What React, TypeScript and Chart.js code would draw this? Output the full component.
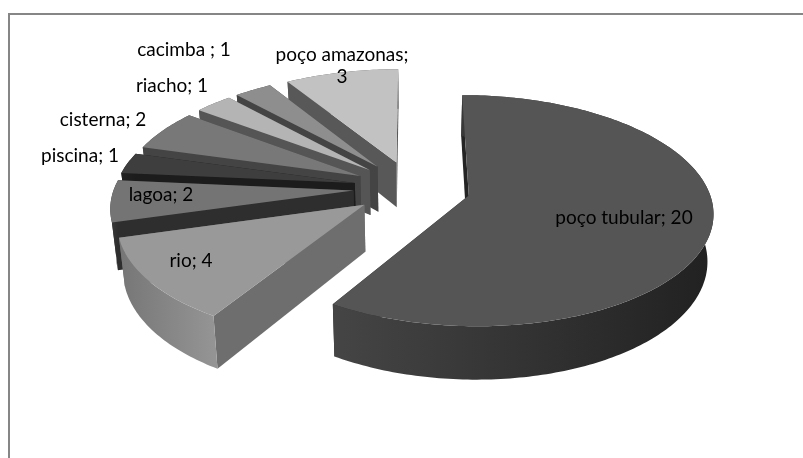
import React, { useEffect, useRef } from "react";
import { Chart, registerables } from "chart.js";

Chart.register(...registerables);

const categories = ["poço tubular", "rio", "lagoa", "piscina", "cisterna", "riacho", "cacimba ", "poço amazonas"];
const values = [20, 4, 2, 1, 2, 1, 1, 3];

const topColors = ["#555555", "#999999", "#747474", "#3e3e3e", "#787878", "#b4b4b4", "#8e8e8e", "#c2c2c2"];
const cutColors = ["#242424", "#6e6e6e", "#2e2e2e", "#1c1c1c", "#444444", "#555555", "#444444", "#585858"];
const wallLeftColors = ["#454545", "#767676", "#3a3a3a", "#222222", "#444444", "#555555", "#444444", "#585858"];
const wallRightColors = ["#212121", "#949494", "#2e2e2e", "#1c1c1c", "#444444", "#555555", "#444444", "#585858"];

const labelLines = [["poço tubular; 20"], ["rio; 4"], ["lagoa; 2"], ["piscina; 1"], ["cisterna; 2"], ["riacho; 1"], ["cacimba ; 1"], ["poço amazonas;", "3"]];
const labelCenterX = [624, 191, 161, 80, 103, 172, 184, 342];
const labelCenterY = [218, 261, 195, 156, 120, 86, 50, 55];

const SLICE_OFFSET = 176;
const RADIUS = 180;
const SCALE_X = 1.33;
const SCALE_Y = 0.62;
const PERSPECTIVE = 0.13 / 180;
const DEPTH = 46;
const BASE_LEAN = 0.98;

const pie3d = {
  id: "pie3d",
  beforeDraw(chart: any) {
    const { ctx } = chart;
    ctx.save();
    ctx.fillStyle = "#ffffff";
    ctx.fillRect(0, 0, chart.width, chart.height);
    ctx.strokeStyle = "#868686";
    ctx.lineWidth = 2;
    ctx.beginPath();
    ctx.moveTo(9, chart.height);
    ctx.lineTo(9, 14);
    ctx.lineTo(chart.width, 14);
    ctx.stroke();
    ctx.restore();
  },
  beforeDatasetDraw(chart: any, args: any) {
    const { ctx } = chart;
    const arcs = chart.getDatasetMeta(args.index).data;
    const slices = arcs.map((arc: any, i: number) => {
      const mid = (arc.startAngle + arc.endAngle) / 2;
      const off = (arc.options.offset || 0) / 4;
      return { arc, i, mid, off, ox: Math.cos(mid) * off, oy: Math.sin(mid) * off };
    });
    slices.sort((a: any, b: any) => a.oy - b.oy);

    for (const s of slices) {
      const { arc, i, ox, oy } = s;
      const cx = arc.x;
      const cy = arc.y;
      const project = (px: number, py: number, bottom: boolean) => {
        const persp = 1 / (1 - py * PERSPECTIVE);
        const lean = bottom ? BASE_LEAN : 1;
        return [cx + px * persp * SCALE_X * lean, cy + py * persp * SCALE_Y + (bottom ? DEPTH * persp : 0)];
      };
      const rimPoint = (a: number, bottom: boolean) =>
        project(ox + arc.outerRadius * Math.cos(a), oy + arc.outerRadius * Math.sin(a), bottom);
      const apex = (bottom: boolean) => project(ox, oy, bottom);
      const steps = Math.max(4, Math.ceil(((arc.endAngle - arc.startAngle) * 180) / Math.PI));
      const rim: number[] = [];
      for (let k = 0; k <= steps; k++) rim.push(arc.startAngle + ((arc.endAngle - arc.startAngle) * k) / steps);

      const fillPoly = (pts: number[][], fill: any) => {
        ctx.beginPath();
        pts.forEach((p, k) => (k ? ctx.lineTo(p[0], p[1]) : ctx.moveTo(p[0], p[1])));
        ctx.closePath();
        ctx.fillStyle = fill;
        ctx.fill();
      };

      const startFace = [apex(false), rimPoint(arc.startAngle, false), rimPoint(arc.startAngle, true), apex(true)];
      const endFace = [apex(false), rimPoint(arc.endAngle, false), rimPoint(arc.endAngle, true), apex(true)];
      const avgY = (f: number[][]) => f.reduce((t, p) => t + p[1], 0) / f.length;
      const faces = avgY(startFace) < avgY(endFace) ? [startFace, endFace] : [endFace, startFace];
      faces.forEach((f) => fillPoly(f, cutColors[i]));

      const topRim = rim.map((a) => rimPoint(a, false));
      const baseRim = rim.map((a) => rimPoint(a, true));
      const xs = topRim.map((p) => p[0]);
      const grad = ctx.createLinearGradient(Math.min(...xs), 0, Math.max(...xs), 0);
      grad.addColorStop(0, wallLeftColors[i]);
      grad.addColorStop(1, wallRightColors[i]);
      fillPoly([...topRim, ...baseRim.slice().reverse()], grad);

      fillPoly([apex(false), ...topRim], arc.options.backgroundColor);
    }
    return false;
  },
  afterDraw(chart: any) {
    const { ctx } = chart;
    ctx.save();
    ctx.font = "19px Lato";
    ctx.fillStyle = "#000000";
    ctx.textAlign = "center";
    ctx.textBaseline = "middle";
    labelLines.forEach((lines, i) => {
      lines.forEach((line, k) => {
        ctx.fillText(line, labelCenterX[i], labelCenterY[i] + k * 22);
      });
    });
    ctx.restore();
  },
};

export default function App() {
  const ref = useRef<HTMLCanvasElement | null>(null);
  useEffect(() => {
    const chart = new Chart(ref.current as HTMLCanvasElement, {
      type: "pie",
      data: {
        labels: categories,
        datasets: [
          {
            data: values,
            backgroundColor: topColors,
            borderWidth: 0,
            offset: SLICE_OFFSET,
          },
        ],
      },
      options: {
        responsive: false,
        animation: false,
        radius: RADIUS,
        layout: { padding: { left: 21, bottom: 82 } },
        plugins: { legend: { display: false }, tooltip: { enabled: false } },
      } as any,
      plugins: [pie3d],
    });
    return () => chart.destroy();
  }, []);
  return (
    <canvas
      ref={ref}
      width={803}
      height={458}
      style={{ position: "fixed", left: 0, top: 0, width: 803, height: 458, display: "block" }}
    />
  );
}
